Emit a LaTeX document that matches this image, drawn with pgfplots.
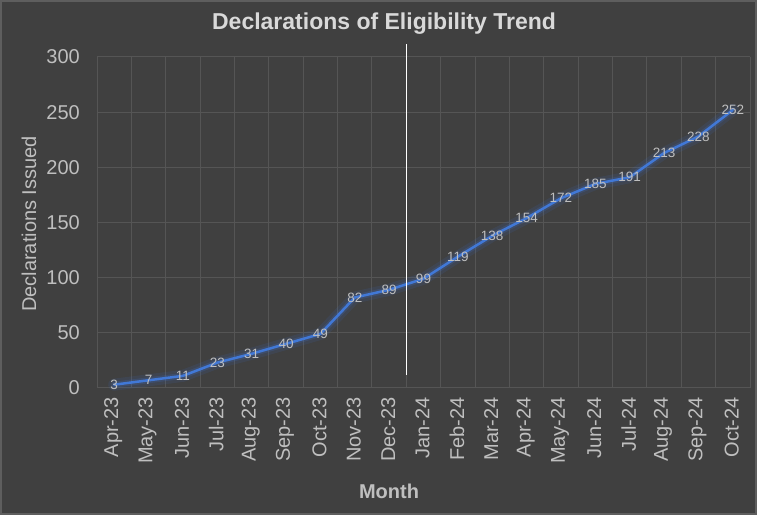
\documentclass[border=0pt]{standalone}
\usepackage{pgfplots}
\pgfplotsset{compat=1.18}
\usepackage{fontspec}
\setmainfont{Liberation Sans}
\definecolor{bg}{HTML}{404040}
\definecolor{bord}{HTML}{5E5E5E}
\definecolor{gridc}{HTML}{555555}
\definecolor{tickc}{HTML}{BFBFBF}
\definecolor{titc}{HTML}{D9D9D9}
\definecolor{linec}{HTML}{4178D6}
\definecolor{glowc}{HTML}{3B6FD0}
\begin{document}
\begin{tikzpicture}
\useasboundingbox (0,0) rectangle (757bp,515bp);
\fill[bg] (0,0) rectangle (757bp,515bp);
\draw[bord, line width=2bp] (1bp,1bp) rectangle (756bp,514bp);
\begin{axis}[
  at={(97bp,127bp)}, anchor=south west,
  scale only axis, width=653bp, height=331bp,
  xmin=-0.5, xmax=18.5, ymin=0, ymax=300,
  clip=false,
  axis line style={draw=none},
  tick style={draw=none},
  major tick length=0pt, minor tick length=0pt,
  xtick={0,...,18},
  xticklabels={Apr-23,May-23,Jun-23,Jul-23,Aug-23,Sep-23,Oct-23,Nov-23,Dec-23,Jan-24,Feb-24,Mar-24,Apr-24,May-24,Jun-24,Jul-24,Aug-24,Sep-24,Oct-24},
  minor xtick={-0.5,0.5,...,18.5},
  xminorgrids=true, xmajorgrids=false,
  ytick={0,50,...,300},
  ymajorgrids=true,
  grid style={gridc, line width=1bp},
  minor grid style={gridc, line width=1bp},
  /pgf/number format/assume math mode=true,
  x tick label style={rotate=90, anchor=east, font=\fontsize{20bp}{22bp}\selectfont, text=tickc, inner sep=0pt, xshift=-9bp, yshift=1bp},
  y tick label style={font=\fontsize{20bp}{22bp}\selectfont, text=tickc, inner sep=0pt, xshift=-17bp},
]
\addplot[glowc, opacity=0.12, line width=12bp, line join=round, line cap=round] coordinates {
(0,3)(1,7)(2,11)(3,23)(4,31)(5,40)(6,49)(7,82)(8,89)(9,99)(10,119)(11,138)(12,154)(13,172)(14,185)(15,191)(16,213)(17,228)(18,252)};
\addplot[glowc, opacity=0.2, line width=6bp, line join=round, line cap=round] coordinates {
(0,3)(1,7)(2,11)(3,23)(4,31)(5,40)(6,49)(7,82)(8,89)(9,99)(10,119)(11,138)(12,154)(13,172)(14,185)(15,191)(16,213)(17,228)(18,252)};
\addplot[linec, line width=2.5bp, line join=round, line cap=round,
  nodes near coords,
  every node near coord/.append style={anchor=center, font=\fontsize{13.5bp}{15bp}\selectfont, text=tickc, inner sep=0pt},
  ] coordinates {
(0,3)(1,7)(2,11)(3,23)(4,31)(5,40)(6,49)(7,82)(8,89)(9,99)(10,119)(11,138)(12,154)(13,172)(14,185)(15,191)(16,213)(17,228)(18,252)};
\addplot[white, line width=1.5bp] coordinates {(8.5,12) (8.5,312)};
\end{axis}
\node[text=titc, font=\fontsize{23bp}{26bp}\selectfont\bfseries] at (384bp,491bp) {Declarations of Eligibility Trend};
\node[text=tickc, font=\fontsize{20bp}{22bp}\selectfont\bfseries] at (389bp,24bp) {Month};
\node[text=tickc, font=\fontsize{20bp}{22bp}\selectfont, rotate=90] at (29bp,291bp) {Declarations Issued};
\end{tikzpicture}
\end{document}
